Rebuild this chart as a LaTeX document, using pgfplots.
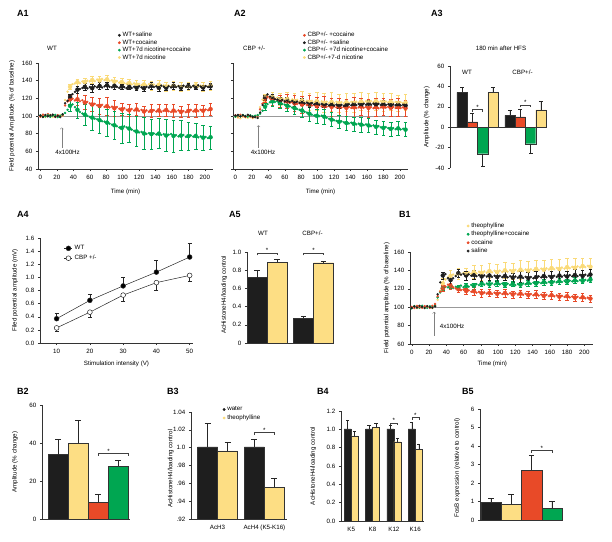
\documentclass[border=0pt]{standalone}
\usepackage{pgfplots}
\usepackage{pgfplotstable}
\pgfplotsset{compat=1.18}
\usepackage{fontspec}
\setmainfont{Liberation Sans}
\newcommand\fs{\fontsize{6.2}{7}\selectfont}
\definecolor{cblack}{RGB}{30,30,30}
\definecolor{cred}{RGB}{232,74,40}
\definecolor{cgreen}{RGB}{0,166,81}
\definecolor{cyellow}{RGB}{250,218,120}
\definecolor{cybar}{RGB}{253,222,132}

\pgfplotsset{
  panel/.style={scale only axis, anchor=south west, clip=false,
    axis lines*=left, axis line style={black!80, line width=0.45pt},
    tick style={black!80, line width=0.45pt}, tick align=outside, major tick length=2.2pt,
    ticklabel style={font=\fs}, label style={font=\fs},
    /pgf/number format/assume math mode=true,
    legend style={draw=none, fill=none, anchor=north west, font=\fs, inner sep=0pt, row sep=-2.6pt},
    legend cell align=left,
    legend image code/.code={\draw[##1] plot coordinates {(0cm,0cm)};}},
  ts/.style={only marks, mark=*, mark size=1.0pt, forget plot},
  lgm/.style={only marks, mark=*, mark size=1.2pt},
  tserr/.style={forget plot, only marks, mark=none, error bars/y dir=both, error bars/y explicit,
    error bars/error bar style={line width=0.4pt},
    error bars/error mark options={rotate=90, mark size=1.8pt, line width=0.4pt}},
  bar/.style={ybar, bar width=1, bar shift=0pt, draw=black!80, line width=0.4pt,
    error bars/y dir=plus, error bars/y explicit,
    error bars/error bar style={black!85, line width=0.45pt},
    error bars/error mark options={rotate=90, black!85, mark size=#1, line width=0.45pt}},
  bar/.default=2.8pt,
}
\newcommand\sig[4]{%
  \draw[black!75, line width=0.4pt] (axis cs:#1,#3) ++(0pt,-2.5pt) -- ++(0pt,2.5pt) -- (axis cs:#2,#3) -- ++(0pt,-2.5pt);
  \node[font=\fs, inner sep=0pt, anchor=base] at (axis cs:#4,#3) {*};}

\pgfplotstableread{
t sal coc nc nic
0 100.5 99.2 100.8 99.5
3 99.0 101.5 98.9 100.6
6 101.2 100.3 99.6 98.8
9 99.6 102.1 100.9 100.2
12 100.8 99.4 99.1 101.3
15 101.6 100.7 100.4 99.1
18 99.3 98.9 101.2 100.4
21 100.1 100.9 98.7 99.6
24 98.8 99.5 100.2 101.0
27 101.9 100.8 101.8 100.3
30 114.5 112.0 103.5 118.0
33 117.2 116.5 107.0 127.5
36 121.5 118.8 111.5 133.0
39 124.8 119.5 113.2 136.0
42 127.3 117.6 110.0 136.8
45 129.8 118.9 107.0 138.2
48 130.5 116.7 104.5 137.0
51 131.6 117.8 102.8 139.1
54 133.0 115.2 101.5 138.5
57 131.2 116.0 100.2 140.0
60 132.8 114.3 99.0 139.2
63 131.5 113.0 98.2 140.8
66 133.6 113.8 97.0 139.5
69 132.4 112.1 96.3 141.3
72 134.0 111.5 95.2 140.2
75 132.2 112.6 94.0 142.0
78 133.5 110.4 93.6 140.6
81 134.8 111.2 92.5 141.5
84 133.1 109.8 91.3 139.8
87 132.5 110.6 90.2 140.4
90 134.2 108.9 89.5 138.9
93 133.0 110.1 88.4 139.6
96 131.8 108.2 87.0 137.8
99 133.4 107.5 86.5 138.5
102 132.6 108.8 88.2 137.1
105 131.4 107.0 87.1 136.5
108 132.9 106.5 85.8 137.4
111 131.7 107.9 84.6 135.8
114 133.2 106.2 83.2 136.9
117 132.0 107.4 82.5 135.4
120 133.6 105.8 81.4 136.3
123 132.3 106.9 81.9 134.8
126 131.5 105.2 80.2 135.7
129 133.0 106.4 79.8 134.5
132 132.2 104.9 80.6 136.0
135 134.1 105.8 79.5 134.7
138 132.8 106.6 80.3 135.6
141 133.5 105.1 79.1 134.2
144 132.0 106.3 80.0 135.3
147 134.4 104.8 78.6 133.9
150 133.2 105.9 79.4 134.8
153 131.9 106.8 77.9 133.5
156 133.7 105.3 78.8 134.6
159 132.4 104.6 79.6 133.2
162 134.0 106.1 77.5 134.3
165 132.7 105.0 78.3 133.0
168 133.8 106.4 76.9 134.1
171 132.1 104.7 77.8 132.8
174 134.3 105.6 78.5 133.9
177 133.0 104.3 76.4 132.6
180 133.9 105.8 77.2 133.7
183 132.5 106.9 78.0 132.4
186 134.2 105.2 76.6 133.5
189 132.8 106.2 77.4 134.6
192 134.6 105.5 75.8 133.3
195 133.3 107.0 76.9 134.4
198 132.2 106.0 75.5 133.1
201 133.8 107.3 76.2 134.0
204 132.9 106.5 75.0 133.4
207 133.6 107.8 75.9 134.2
}\Aone

\pgfplotstableread{
t sal esal coc ecoc nc enc nic enic
36 121.5 3 118.8 5 111.5 6 133.0 3
45 129.8 4 118.9 7 107.0 9 138.2 4
54 133.0 4 115.2 8 101.5 12 138.5 4
63 131.5 4 113.0 8 98.2 14 140.8 4
72 134.0 4 111.5 9 95.2 15 140.2 5
81 134.8 4 111.2 10 92.5 15 141.5 5
90 134.2 4 108.9 9 89.5 16 138.9 5
99 133.4 3 107.5 7 86.5 17 138.5 4
108 132.9 3 106.5 7 85.8 16 137.4 4
117 132.0 3 107.4 7 82.5 17 135.4 5
126 131.5 3 105.2 6 80.2 18 135.7 5
135 134.1 4 105.8 7 79.5 17 134.7 5
144 132.0 4 106.3 7 80.0 17 135.3 5
153 131.9 3 106.8 7 77.9 18 133.5 5
162 134.0 4 106.1 7 77.5 18 134.3 5
171 132.1 3 104.7 6 77.8 17 132.8 5
180 133.9 3 105.8 7 77.2 16 133.7 5
189 132.8 3 106.2 7 77.4 15 134.6 4
198 132.2 3 106.0 6 75.5 14 133.1 5
207 133.6 3 107.8 7 75.9 13 134.2 5
}\Aoneerr

\pgfplotstableread{
t coc sal nc nic
0 100.8 100.5 99.2 99.0
3 99.5 101.2 100.6 98.2
6 101.3 99.6 99.8 97.5
9 100.2 100.9 101.1 99.3
12 98.9 99.8 100.0 98.6
15 100.6 101.4 99.4 97.9
18 99.7 100.2 100.8 98.8
21 98.5 99.1 99.6 97.7
24 99.8 98.6 100.3 99.1
27 100.4 97.8 101.0 98.4
30 107.5 104.0 102.5 110.0
33 114.0 112.5 106.0 118.5
36 119.5 120.5 110.5 121.0
39 121.5 124.5 113.5 122.5
42 120.0 122.0 115.5 120.5
45 118.5 120.5 116.5 121.5
48 119.2 119.0 115.8 119.6
51 117.4 118.6 116.8 120.8
54 116.8 117.3 114.9 118.7
57 117.9 118.2 113.6 119.9
60 115.6 116.6 112.8 118.3
63 116.5 117.5 111.5 119.2
66 114.8 116.0 110.9 117.6
69 115.7 117.1 109.6 118.8
72 114.2 115.4 108.8 117.1
75 113.6 116.3 107.9 118.3
78 114.5 114.8 107.0 116.6
81 112.9 115.9 106.2 117.7
84 113.8 114.3 104.8 116.2
87 112.4 115.2 103.9 117.4
90 113.1 113.7 102.6 116.0
93 111.8 114.6 101.5 117.1
96 112.6 113.2 100.6 115.6
99 111.2 114.1 100.2 116.8
102 112.3 112.8 99.8 115.2
105 110.9 113.7 100.5 116.5
108 111.6 112.4 99.2 115.0
111 110.5 113.3 98.0 116.2
114 111.4 112.0 96.8 114.8
117 110.2 113.0 95.9 116.0
120 111.0 111.8 95.2 114.6
123 109.8 112.9 94.5 115.9
126 110.7 111.6 93.4 114.5
129 109.5 112.6 93.9 115.7
132 110.4 111.5 92.8 114.3
135 109.3 112.4 92.1 115.6
138 110.2 113.2 91.6 114.8
141 109.1 112.2 92.4 116.0
144 110.0 113.4 91.2 114.9
147 108.9 112.3 90.6 116.3
150 109.8 113.6 91.4 115.0
153 110.6 112.4 90.2 116.4
156 109.4 113.8 89.7 115.2
159 110.3 112.7 90.5 116.6
162 109.2 113.9 89.3 115.4
165 110.1 112.8 88.6 116.8
168 109.0 114.0 89.4 115.6
171 109.9 112.9 87.8 116.9
174 108.8 113.7 88.5 115.7
177 109.7 112.6 87.2 116.7
180 110.5 113.5 86.6 115.5
183 109.5 112.4 87.4 116.4
186 110.4 113.3 86.2 115.3
189 109.3 112.2 85.5 116.2
192 110.2 113.2 86.3 115.0
195 109.1 112.1 85.1 115.9
198 110.0 113.0 86.0 114.8
201 109.0 112.0 84.8 115.6
204 109.8 112.8 85.6 114.5
207 108.9 111.9 84.6 115.2
}\Atwo

\pgfplotstableread{
t coc ecoc sal esal nc enc nic enic
36 119.5 4 120.5 3 110.5 4 121.0 4
45 118.5 6 120.5 4 116.5 5 121.5 6
54 116.8 7 117.3 4 114.9 6 118.7 7
63 116.5 8 117.5 4 111.5 6 119.2 8
72 114.2 9 115.4 4 108.8 7 117.1 9
81 112.9 10 115.9 4 106.2 7 117.7 10
90 113.1 10 113.7 4 102.6 8 116.0 10
99 111.2 10 114.1 4 100.2 8 116.8 10
108 111.6 11 112.4 3 99.2 8 115.0 11
117 110.2 10 113.0 3 95.9 8 116.0 11
126 110.7 10 111.6 3 93.4 7 114.5 10
135 109.3 10 112.4 3 92.1 8 115.6 10
144 110.0 11 113.4 3 91.2 8 114.9 11
153 110.6 10 112.4 3 90.2 8 116.4 10
162 109.2 10 113.9 4 89.3 8 115.4 10
171 109.9 10 112.9 3 87.8 8 116.9 10
180 110.5 10 113.5 4 86.6 8 115.5 10
189 109.3 10 112.2 3 85.5 8 116.2 10
198 110.0 10 113.0 4 86.0 8 114.8 9
207 108.9 9 111.9 3 84.6 8 115.2 9
}\Atwoerr

\pgfplotstableread{
t theo tc coc sal
0 99.5 98.8 100.3 99.2
3 100.6 101.2 99.1 100.8
6 99.0 100.1 101.4 99.6
9 101.3 99.4 100.2 101.5
12 100.2 101.6 99.5 100.4
15 99.4 100.3 101.1 99.1
18 101.0 99.2 100.6 101.2
21 100.4 101.0 99.3 100.0
24 99.1 100.6 101.5 99.4
27 101.5 102.2 103.5 100.8
30 108.0 110.5 112.0 114.0
33 118.0 116.0 117.0 127.0
36 126.0 120.5 120.5 134.5
39 130.0 122.0 122.5 136.0
42 132.5 121.5 124.5 131.5
45 134.0 122.8 123.0 129.5
48 135.5 120.8 121.5 131.5
51 134.2 122.2 120.4 133.8
54 136.8 121.0 119.6 137.0
57 135.5 123.5 118.5 135.4
60 137.2 121.9 119.2 136.2
63 135.9 123.0 117.6 134.5
66 137.8 122.4 118.3 135.6
69 136.4 124.2 116.8 134.2
72 138.3 123.1 117.4 135.1
75 136.8 125.0 115.9 133.7
78 138.6 124.0 116.6 134.9
81 137.2 125.6 115.2 133.4
84 139.0 124.5 116.0 134.6
87 137.6 125.8 114.8 133.3
90 139.3 124.8 115.6 134.4
93 137.9 125.9 114.5 133.0
96 139.6 124.6 115.8 134.2
99 138.1 126.0 114.6 132.8
102 139.8 124.9 115.5 134.0
105 138.4 125.7 114.3 132.7
108 140.1 124.3 115.4 133.9
111 138.7 125.5 114.1 132.5
114 140.3 124.2 115.2 133.6
117 139.0 125.3 113.9 132.2
120 140.6 124.0 115.0 133.4
123 139.2 125.1 113.7 132.0
126 140.8 124.5 114.8 133.2
129 139.5 125.8 113.5 131.8
132 141.0 124.9 114.6 133.0
135 139.8 126.3 113.3 131.6
138 141.3 125.4 114.3 132.9
141 140.1 126.7 113.0 131.5
144 141.6 125.8 114.0 132.7
147 140.4 127.0 112.7 133.5
150 141.9 126.1 113.7 132.4
153 140.7 127.3 112.4 133.8
156 142.2 126.4 113.4 132.6
159 141.0 127.6 112.1 134.0
162 142.5 126.8 113.1 132.8
165 141.3 127.9 111.8 134.2
168 142.8 127.1 112.8 133.0
171 141.6 128.2 111.5 134.4
174 143.1 127.4 112.4 133.2
177 142.0 128.5 111.2 134.6
180 143.5 127.7 112.0 133.4
183 142.4 128.8 110.8 134.8
186 143.9 128.0 111.6 133.6
189 142.8 129.1 110.4 135.0
192 144.3 128.3 111.2 133.8
195 143.2 129.4 110.0 135.2
198 144.7 128.6 110.8 134.0
201 143.6 129.7 109.6 135.4
204 145.0 128.9 110.4 134.2
207 144.0 130.0 109.4 135.5
}\Bone

\pgfplotstableread{
t theo etheo tc etc coc ecoc sal esal
36 126.0 5 120.5 2 120.5 3 134.5 4
45 134.0 6 122.8 2 123.0 3 129.5 4
54 136.8 6 121.0 3 119.6 3 137.0 4
63 135.9 7 123.0 3 117.6 3 134.5 5
72 138.3 7 123.1 3 117.4 4 135.1 5
81 137.2 8 125.6 3 115.2 4 133.4 5
90 139.3 8 124.8 3 115.6 4 134.4 5
99 138.1 9 126.0 3 114.6 4 132.8 5
108 140.1 9 124.3 3 115.4 4 133.9 5
117 139.0 9 125.3 3 113.9 4 132.2 5
126 140.8 10 124.5 3 114.8 4 133.2 6
135 139.8 10 126.3 3 113.3 4 131.6 6
144 141.6 10 125.8 3 114.0 4 132.7 6
153 140.7 10 127.3 3 112.4 4 133.8 6
162 142.5 10 126.8 3 113.1 4 132.8 6
171 141.6 11 128.2 3 111.5 4 134.4 6
180 143.5 10 127.7 3 112.0 4 133.4 6
189 142.8 10 129.1 3 110.4 4 135.0 6
198 144.7 9 128.6 3 110.8 4 134.0 6
207 144.0 9 130.0 3 109.4 4 135.5 6
}\Boneerr

\begin{document}
\begin{tikzpicture}[x=1pt,y=1pt]

% ---------------- A1
\begin{axis}[panel, at={(38pt,372pt)}, width=175pt, height=106pt,
  xmin=-3, xmax=210, ymin=40, ymax=160,
  xtick={0,20,...,200}, ytick={40,60,...,160},
  xlabel={Time (min)}, ylabel={Field potential Amplitude (\% of baseline)},
  xlabel style={at={(axis description cs:0.5,0)}, anchor=center, yshift=-23pt},
  ylabel style={at={(axis description cs:-0.149,0.5)}, anchor=center},
  legend style={at={(axis description cs:0.457,1.31)}}]
\addlegendimage{lgm, cblack}\addlegendentry{WT+saline}
\addlegendimage{lgm, cred}\addlegendentry{WT+cocaine}
\addlegendimage{lgm, cgreen}\addlegendentry{WT+7d nicotine+cocaine}
\addlegendimage{lgm, cyellow}\addlegendentry{WT+7d nicotine}
\addplot[forget plot, gray!80, line width=0.5pt] coordinates {(-3,100) (210,100)};
\addplot[tserr, cyellow] table[x=t, y=nic, y error=enic] {\Aoneerr};
\addplot[tserr, cred] table[x=t, y=coc, y error=ecoc] {\Aoneerr};
\addplot[tserr, cgreen] table[x=t, y=nc, y error=enc] {\Aoneerr};
\addplot[tserr, cblack] table[x=t, y=sal, y error=esal] {\Aoneerr};
\addplot[ts, cyellow] table[x=t, y=nic] {\Aone};
\addplot[ts, cred] table[x=t, y=coc] {\Aone};
\addplot[ts, cgreen] table[x=t, y=nc] {\Aone};
\addplot[ts, cblack] table[x=t, y=sal] {\Aone};
\draw[->, gray, line width=0.4pt] (axis cs:26,64) -- (axis cs:26,87);
\node[font=\fs] at (axis cs:33,58.4) {4x100Hz};
\end{axis}

% ---------------- A2
\begin{axis}[panel, at={(233pt,372pt)}, width=175pt, height=106pt,
  xmin=-3, xmax=210, ymin=40, ymax=160,
  xtick={0,20,...,200}, ytick={40,60,...,160}, yticklabels={},
  xlabel={Time (min)},
  xlabel style={at={(axis description cs:0.5,0)}, anchor=center, yshift=-23pt},
  legend style={at={(axis description cs:0.40,1.31)}}]
\addlegendimage{lgm, cred}\addlegendentry{CBP+/- +cocaine}
\addlegendimage{lgm, cblack}\addlegendentry{CBP+/- +saline}
\addlegendimage{lgm, cgreen}\addlegendentry{CBP+/- +7d nicotine+cocaine}
\addlegendimage{lgm, cyellow}\addlegendentry{CBP+/-+7-d nicotine}
\addplot[forget plot, gray!80, line width=0.5pt] coordinates {(-3,100) (210,100)};
\addplot[tserr, cyellow] table[x=t, y=nic, y error=enic] {\Atwoerr};
\addplot[tserr, cred] table[x=t, y=coc, y error=ecoc] {\Atwoerr};
\addplot[tserr, cgreen] table[x=t, y=nc, y error=enc] {\Atwoerr};
\addplot[tserr, cblack] table[x=t, y=sal, y error=esal] {\Atwoerr};
\addplot[ts, cyellow] table[x=t, y=nic] {\Atwo};
\addplot[ts, cred] table[x=t, y=coc] {\Atwo};
\addplot[ts, cgreen] table[x=t, y=nc] {\Atwo};
\addplot[ts, cblack] table[x=t, y=sal] {\Atwo};
\draw[->, gray, line width=0.4pt] (axis cs:28,64) -- (axis cs:28,89.5);
\node[font=\fs] at (axis cs:33.5,58.4) {4x100Hz};
\end{axis}

% ---------------- A3
\begin{axis}[panel, at={(450pt,373pt)}, width=96pt, height=102pt,
  xmin=-1.17, xmax=8.15, ymin=-40, ymax=60,
  axis x line=none, axis y line*=left, xtick=\empty,
  ytick={-40,-20,0,20,40,60}, yticklabels={-40,-20,0,20,40,60},
  ylabel={Amplitude (\% change)},
  ylabel style={at={(axis description cs:-0.243,0.5)}, anchor=center}]
\addplot[black!80, line width=0.45pt] coordinates {(-1.17,0) (8.1,0)};
\addplot[bar=2pt, fill=cblack] coordinates {(0,34.2) +- (0,4.5) (4.65,11.7) +- (0,5)};
\addplot[bar=2pt, fill=cred] coordinates {(1,5.3) +- (0,8.2) (5.65,10.2) +- (0,7)};
\addplot[bar=2pt, fill=cgreen, error bars/y dir=minus] coordinates {(2,-26) +- (0,12) (6.65,-16.2) +- (0,9)};
\addplot[bar=2pt, fill=cybar] coordinates {(3,34.2) +- (0,5) (7.65,17) +- (0,8)};
\sig{1}{2}{17.3}{1.5}
\sig{5.65}{6.65}{21.9}{6.15}
\end{axis}

% ---------------- A4
\begin{axis}[panel, at={(40pt,198pt)}, width=153pt, height=105pt,
  xmin=5, xmax=51, ymin=0, ymax=1.6,
  xtick={10,20,30,40,50}, ytick={0,0.2,0.4,0.6,0.8,1.0,1.2,1.4,1.6},
  yticklabel style={/pgf/number format/.cd, fixed, fixed zerofill, precision=1},
  xlabel={Stimulation intensity (V)}, ylabel={Filed potential amplitude (mV)},
  xlabel style={at={(axis description cs:0.5,0)}, anchor=center, yshift=-21pt},
  ylabel style={at={(axis description cs:-0.163,0.5)}, anchor=center},
  legend style={at={(axis description cs:0.157,0.95)}, row sep=0pt},
  legend image code/.code={\draw[mark indices={2}, #1] plot coordinates {(0cm,0cm) (0.14cm,0cm) (0.28cm,0cm)};}]
\addplot[black!85, line width=0.5pt, mark=*, mark size=2.4pt, mark options={fill=black, line width=0.5pt},
  error bars/y dir=plus, error bars/y explicit,
  error bars/error mark options={rotate=90, mark size=2pt, line width=0.5pt}]
  coordinates {(10,0.37) +- (0,0.08) (20,0.65) +- (0,0.10) (30,0.87) +- (0,0.13) (40,1.08) +- (0,0.18) (50,1.31) +- (0,0.21)};
\addlegendentry{WT}
\addplot[black!85, line width=0.5pt, mark=*, mark size=2.4pt, mark options={fill=white, line width=0.5pt},
  error bars/y dir=minus, error bars/y explicit,
  error bars/error mark options={rotate=90, mark size=2pt, line width=0.5pt}]
  coordinates {(10,0.23) +- (0,0.05) (20,0.47) +- (0,0.08) (30,0.73) +- (0,0.09) (40,0.92) +- (0,0.11) (50,1.03) +- (0,0.09)};
\addlegendentry{CBP +/-}
\end{axis}

% ---------------- A5
\begin{axis}[panel, at={(247pt,198pt)}, width=87pt, height=91pt,
  xmin=-0.5, xmax=3.85, ymin=0, ymax=1, xtick=\empty,
  ytick={0,0.2,0.4,0.6,0.8,1}, yticklabels={0,0.2,0.4,0.6,0.8,1.0},
  ylabel={AcHistoneH4/loading control},
  ylabel style={at={(axis description cs:-0.261,0.53)}, anchor=center}]
\addplot[bar=2.8pt, fill=cblack] coordinates {(0,0.718) +- (0,0.077) (2.33,0.271) +- (0,0.026)};
\addplot[bar=2.8pt, fill=cybar] coordinates {(1,0.887) +- (0,0.033) (3.33,0.882) +- (0,0.018)};
\sig{0}{1}{0.99}{0.5}
\sig{2.33}{3.33}{0.99}{2.83}
\end{axis}

% ---------------- B1
\begin{axis}[panel, at={(410pt,197pt)}, width=183pt, height=92pt,
  xmin=-2, xmax=210, ymin=60, ymax=160,
  xtick={0,20,...,200}, ytick={60,80,...,160},
  xlabel={Time (min)}, ylabel={Field potential amplitude (\% of baseline)},
  xlabel style={at={(axis description cs:0.45,0)}, anchor=center, yshift=-20pt},
  ylabel style={at={(axis description cs:-0.127,0.5)}, anchor=center},
  legend style={at={(axis description cs:0.31,1.34)}, row sep=-1.6pt}]
\addlegendimage{lgm, cyellow}\addlegendentry{theophylline}
\addlegendimage{lgm, cgreen}\addlegendentry{theophylline+cocaine}
\addlegendimage{lgm, cred}\addlegendentry{cocaine}
\addlegendimage{lgm, cblack}\addlegendentry{saline}
\addplot[forget plot, gray!80, line width=0.5pt] coordinates {(25,100) (210,100)};
\addplot[tserr, cyellow] table[x=t, y=theo, y error=etheo] {\Boneerr};
\addplot[tserr, cgreen] table[x=t, y=tc, y error=etc] {\Boneerr};
\addplot[tserr, cred] table[x=t, y=coc, y error=ecoc] {\Boneerr};
\addplot[tserr, cblack] table[x=t, y=sal, y error=esal] {\Boneerr};
\addplot[ts, cyellow] table[x=t, y=theo] {\Bone};
\addplot[ts, cgreen] table[x=t, y=tc] {\Bone};
\addplot[ts, cred] table[x=t, y=coc] {\Bone};
\addplot[ts, cblack] table[x=t, y=sal] {\Bone};
\draw[->, gray, line width=0.4pt] (axis cs:26,68.7) -- (axis cs:26,95);
\node[font=\fs, anchor=west] at (axis cs:28.5,79.6) {4x100Hz};
\end{axis}

% ---------------- B2
\begin{axis}[panel, at={(42pt,22pt)}, width=88pt, height=114pt,
  xmin=-0.8, xmax=3.6, ymin=0, ymax=60, xtick=\empty, ytick={0,20,40,60},
  ylabel={Amplitude (\% change)},
  ylabel style={at={(axis description cs:-0.307,0.5)}, anchor=center}]
\addplot[bar=3pt, fill=cblack] coordinates {(0,33.9) +- (0,8.1)};
\addplot[bar=3pt, fill=cybar] coordinates {(1,39.9) +- (0,11.9)};
\addplot[bar=3pt, fill=cred] coordinates {(2,8.7) +- (0,4.4)};
\addplot[bar=3pt, fill=cgreen] coordinates {(3,27.8) +- (0,3.2)};
\sig{2}{3.5}{34.6}{2.53}
\end{axis}

% ---------------- B3
\begin{axis}[panel, at={(191pt,22pt)}, width=96pt, height=107pt, clip=true,
  xmin=-0.83, xmax=3.98, ymin=0.92, ymax=1.04,
  xtick={0.5,2.85}, xticklabels={AcH3,AcH4 (K5-K16)}, x tick style={draw=none},
  ytick={0.92,0.94,0.96,0.98,1.0,1.02,1.04}, yticklabels={.92,.94,.96,.98,1.0,1.02,1.04},
  ylabel={AcHistoneH4/loading control},
  ylabel style={at={(axis description cs:-0.211,0.47)}, anchor=center},
  legend style={at={(axis description cs:0.33,1.07)}, row sep=-1.2pt}]
\addlegendimage{lgm, cblack}\addlegendentry{water}
\addlegendimage{lgm, cyellow}\addlegendentry{theophylline}
\addplot[bar=3pt, fill=cblack, forget plot] coordinates {(0,1.001) +- (0,0.026) (2.35,1.001) +- (0,0.008)};
\addplot[bar=3pt, fill=cybar, forget plot] coordinates {(1,0.9965) +- (0,0.010) (3.35,0.9557) +- (0,0.010)};
\sig{2.35}{3.35}{1.0168}{2.85}
\end{axis}

% ---------------- B4
\begin{axis}[panel, at={(341pt,20pt)}, width=83pt, height=110pt,
  xmin=-0.95, xmax=10.9, ymin=0, ymax=1.2,
  xtick={0.5,3.55,6.6,9.65}, xticklabels={K5,K8,K12,K16}, x tick style={draw=none},
  ytick={0,0.2,0.4,0.6,0.8,1.0,1.2},
  yticklabel style={/pgf/number format/.cd, fixed, fixed zerofill, precision=1},
  ylabel={AcHistoneH4/loading control},
  ylabel style={at={(axis description cs:-0.334,0.5)}, anchor=center}]
\addplot[bar=1.6pt, fill=cblack] coordinates {(0,1.004) +- (0,0.094) (3.05,1.004) +- (0,0.036) (6.1,1.004) +- (0,0.036) (9.15,1.004) +- (0,0.076)};
\addplot[bar=1.6pt, fill=cybar] coordinates {(1,0.93) +- (0,0.045) (4.05,1.022) +- (0,0.044) (7.1,0.865) +- (0,0.037) (10.15,0.782) +- (0,0.061)};
\sig{6.1}{7.1}{1.072}{6.6}
\sig{9.15}{10.15}{1.127}{9.65}
\end{axis}

% ---------------- B5
\begin{axis}[panel, at={(480pt,21pt)}, width=82pt, height=111pt,
  xmin=-0.54, xmax=3.5, ymin=0, ymax=6, xtick=\empty, ytick={0,1,2,3,4,5,6},
  ylabel={FosB expression (relative to control)},
  ylabel style={at={(axis description cs:-0.277,0.47)}, anchor=center}]
\addplot[bar=2.8pt, fill=cblack] coordinates {(0,0.96) +- (0,0.22)};
\addplot[bar=2.8pt, fill=cybar] coordinates {(1,0.85) +- (0,0.54)};
\addplot[bar=2.8pt, fill=cred] coordinates {(2,2.71) +- (0,0.78)};
\addplot[bar=2.8pt, fill=cgreen] coordinates {(3,0.63) +- (0,0.40)};
\sig{2}{3}{3.75}{2.5}
\end{axis}

% ---------------- free text
\begin{scope}[every node/.style={font=\fs, inner sep=0pt}]
\node[anchor=west] at (47pt,493pt) {WT};
\node[anchor=west] at (243pt,493pt) {CBP +/-};
\node at (501pt,493pt) {180 min after HFS};
\node at (467pt,468.3pt) {WT};
\node at (522.5pt,468.3pt) {CBP+/-};
\node at (263pt,307.7pt) {WT};
\node at (312.5pt,307.7pt) {CBP+/-};
\end{scope}
\begin{scope}[every node/.style={font=\bfseries\fontsize{9}{10}\selectfont, inner sep=0pt, anchor=west}]
\node at (17pt,528pt) {A1};
\node at (234pt,528pt) {A2};
\node at (431pt,528pt) {A3};
\node at (17pt,327pt) {A4};
\node at (229pt,327pt) {A5};
\node at (399pt,327pt) {B1};
\node at (17pt,150pt) {B2};
\node at (167pt,150pt) {B3};
\node at (317pt,150pt) {B4};
\node at (462pt,150pt) {B5};
\end{scope}
\pgfresetboundingbox
\path[use as bounding box] (0pt,0pt) rectangle (612pt,541pt);
\end{tikzpicture}
\end{document}
